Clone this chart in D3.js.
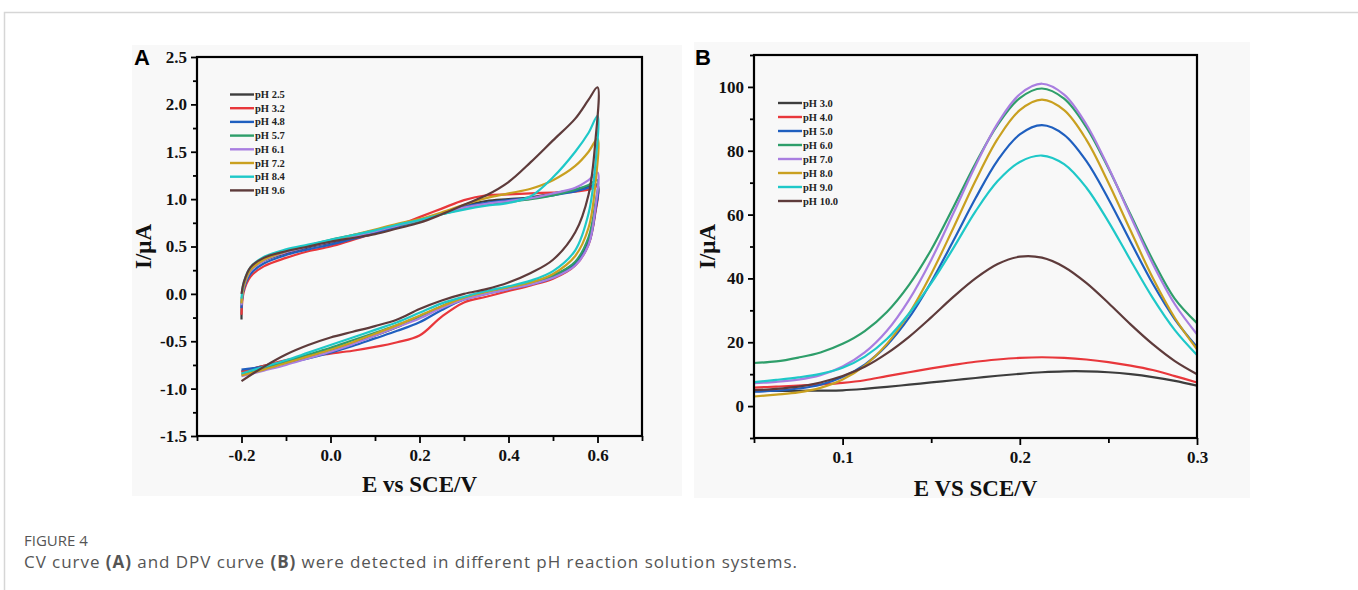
<!DOCTYPE html>
<html>
<head>
<meta charset="utf-8">
<script src="https://cdn.jsdelivr.net/npm/d3@7"></script>
<style>
  body { margin: 0; background: #fff; }
  text { font-family: 'Liberation Serif', 'Times New Roman', serif; }
</style>
</head>
<body>
<div id="chart"></div>
<script>
// ---- panel A : CV curves ----
const cvLabels = ['pH 2.5', 'pH 3.2', 'pH 4.8', 'pH 5.7', 'pH 6.1', 'pH 7.2', 'pH 8.4', 'pH 9.6']
const cvColors = ['#3d3d3d', '#e8373b', '#1f5fbf', '#2e9e6a', '#a97ee0', '#c9a020', '#1ec8c8', '#5e3b3b']

// forward scan (lower branch), ends at the switching potential
const cvForwardE = [-0.2, -0.15, -0.1, -0.05, 0, 0.05, 0.1, 0.15, 0.2, 0.25, 0.3, 0.35, 0.4, 0.45, 0.5, 0.55, 0.58, 0.595, 0.6]
const cvForward = [
  [-0.82, -0.76, -0.71, -0.65, -0.59, -0.52, -0.44, -0.35, -0.24, -0.13, -0.04, 0.02, 0.07, 0.12, 0.19, 0.33, 0.55, 0.88, 1.15],
  [-0.82, -0.76, -0.7, -0.66, -0.63, -0.6, -0.56, -0.51, -0.44, -0.24, -0.09, -0.03, 0.03, 0.09, 0.16, 0.3, 0.52, 0.85, 1.13],
  [-0.8, -0.77, -0.73, -0.68, -0.62, -0.55, -0.47, -0.39, -0.3, -0.17, -0.06, 0.0, 0.05, 0.1, 0.17, 0.31, 0.53, 0.87, 1.15],
  [-0.85, -0.79, -0.72, -0.64, -0.57, -0.49, -0.41, -0.33, -0.24, -0.14, -0.05, 0.01, 0.06, 0.11, 0.19, 0.34, 0.6, 0.95, 1.2],
  [-0.87, -0.81, -0.75, -0.68, -0.61, -0.53, -0.44, -0.35, -0.26, -0.15, -0.06, 0.0, 0.05, 0.1, 0.17, 0.3, 0.52, 0.9, 1.28],
  [-0.86, -0.8, -0.73, -0.66, -0.59, -0.51, -0.42, -0.33, -0.23, -0.13, -0.04, 0.02, 0.07, 0.12, 0.21, 0.4, 0.7, 1.15, 1.64],
  [-0.84, -0.77, -0.7, -0.62, -0.54, -0.46, -0.38, -0.3, -0.2, -0.1, -0.03, 0.03, 0.08, 0.14, 0.24, 0.46, 0.85, 1.35, 1.88],
  [-0.92, -0.77, -0.64, -0.54, -0.46, -0.4, -0.34, -0.27, -0.16, -0.07, 0.0, 0.05, 0.12, 0.22, 0.36, 0.65, 1.05, 1.6, 2.18]
]
// reverse scan (upper branch), back to -0.2 V
const cvReverseE = [0.58, 0.55, 0.5, 0.45, 0.4, 0.35, 0.3, 0.25, 0.2, 0.15, 0.1, 0.05, 0, -0.05, -0.1, -0.15, -0.18, -0.195, -0.2]
const cvReverse = [
  [1.13, 1.1, 1.06, 1.02, 1.0, 0.98, 0.93, 0.85, 0.77, 0.71, 0.65, 0.59, 0.54, 0.49, 0.43, 0.35, 0.25, 0.1, -0.27],
  [1.1, 1.08, 1.07, 1.06, 1.05, 1.04, 0.99, 0.9, 0.81, 0.72, 0.64, 0.57, 0.5, 0.45, 0.38, 0.29, 0.18, 0.02, -0.22],
  [1.12, 1.08, 1.04, 1.01, 0.99, 0.96, 0.92, 0.85, 0.77, 0.71, 0.64, 0.58, 0.52, 0.47, 0.41, 0.32, 0.21, 0.05, -0.15],
  [1.15, 1.1, 1.04, 1.0, 0.97, 0.94, 0.9, 0.84, 0.77, 0.72, 0.67, 0.62, 0.57, 0.51, 0.45, 0.36, 0.25, 0.08, -0.1],
  [1.2, 1.12, 1.06, 1.01, 0.98, 0.95, 0.91, 0.85, 0.78, 0.72, 0.66, 0.6, 0.55, 0.5, 0.44, 0.35, 0.24, 0.07, -0.12],
  [1.5, 1.35, 1.2, 1.11, 1.06, 1.01, 0.94, 0.86, 0.79, 0.74, 0.68, 0.62, 0.56, 0.51, 0.45, 0.36, 0.25, 0.08, -0.1],
  [1.7, 1.5, 1.23, 1.03, 0.96, 0.93, 0.89, 0.84, 0.78, 0.73, 0.67, 0.62, 0.57, 0.52, 0.47, 0.39, 0.28, 0.12, -0.05],
  [2.05, 1.85, 1.62, 1.39, 1.18, 1.04, 0.94, 0.84, 0.75, 0.69, 0.63, 0.59, 0.55, 0.5, 0.45, 0.38, 0.28, 0.12, 0.0]
]

// ---- panel B : DPV curves ----
const dpvLabels = ['pH 3.0', 'pH 4.0', 'pH 5.0', 'pH 6.0', 'pH 7.0', 'pH 8.0', 'pH 9.0', 'pH 10.0']
const dpvColors = ['#3d3d3d', '#e8373b', '#1f5fbf', '#2e9e6a', '#a97ee0', '#c9a020', '#1ec8c8', '#5e3b3b']
const dpvE = [0.05, 0.0625, 0.075, 0.0875, 0.1, 0.1125, 0.125, 0.1375, 0.15, 0.1625, 0.175,
  0.1875, 0.2, 0.2125, 0.225, 0.2375, 0.25, 0.2625, 0.275, 0.2875, 0.3]
const dpvI = [
  [4.7, 4.75, 4.8, 4.85, 4.95, 5.4, 6.0, 6.7, 7.4, 8.1, 8.8, 9.5, 10.1, 10.6, 10.9, 10.9, 10.6, 10.0, 9.1, 7.9, 6.4],
  [5.8, 6.1, 6.4, 6.8, 7.3, 8.1, 9.4, 10.6, 11.8, 12.9, 13.9, 14.6, 15.1, 15.3, 15.1, 14.6, 13.8, 12.7, 11.3, 9.4, 7.4],
  [4.5, 4.8, 5.5, 6.7, 9.1, 13, 19.1, 27.7, 38.9, 51.8, 65.1, 77, 85.1, 88, 85, 76.8, 64.9, 51.5, 38.4, 27.2, 18.5],
  [13.5, 14.0, 15.2, 16.8, 19.5, 23.5, 29.5, 38, 49, 62.3, 76, 88.1, 96.5, 99.5, 96.3, 87.4, 74.5, 60, 45.8, 33.6, 26],
  [7.2, 7.6, 8.3, 9.7, 12.4, 16.8, 23.6, 33.3, 45.8, 60.4, 75.3, 88.6, 97.7, 101, 97.6, 88.3, 74.8, 59.5, 44.6, 31.9, 22.5],
  [3.0, 3.6, 4.3, 5.7, 8.3, 12.7, 19.5, 29, 41.4, 55.8, 70.6, 83.7, 92.7, 96, 92.7, 83.5, 70, 55, 40.2, 27.6, 17.8],
  [7.5, 8.2, 9.0, 10.1, 12, 15.5, 21, 29, 38.5, 49.5, 61, 70.5, 76.5, 78.5, 75.8, 68.5, 57.8, 45.7, 33.9, 23.8, 16],
  [5.0, 5.4, 6.1, 7.4, 9.4, 12.3, 16.5, 21.7, 27.8, 34.2, 40, 44.5, 46.8, 46.5, 43.6, 38.6, 32.3, 25.6, 19.4, 14.1, 10]
]

const cvXTicks = [-0.3, -0.2, -0.1, 0, 0.1, 0.2, 0.3, 0.4, 0.5, 0.6, 0.7]
const cvXLabels = [-0.2, 0, 0.2, 0.4, 0.6]
const cvYTicks = d3.range(-1.5, 2.51, 0.25)
const cvYLabels = [-1.5, -1.0, -0.5, 0, 0.5, 1.0, 1.5, 2.0, 2.5]
const dpvXTicks = [0.05, 0.1, 0.15, 0.2, 0.25, 0.3]
const dpvXLabels = [0.1, 0.2, 0.3]
const dpvYTicks = d3.range(-10, 111, 10)
const dpvYLabels = [0, 20, 40, 60, 80, 100]

const width = 1358
const height = 590

const svg = d3
  .select('#chart')
  .append('svg')
  .attr('width', width)
  .attr('height', height)

// card outline
svg
  .append('rect')
  .attr('x', 4.5)
  .attr('y', 12.5)
  .attr('width', 1400)
  .attr('height', 700)
  .attr('fill', 'none')
  .attr('stroke', '#d6d6d6')
  .attr('stroke-width', 1.5)

// draws one framed panel
function panel(opts) {
  const g = svg.append('g')

  g.append('rect')
    .attr('x', opts.bg[0])
    .attr('y', opts.bg[1])
    .attr('width', opts.bg[2])
    .attr('height', opts.bg[3])
    .attr('fill', '#f8f8f8')

  const x = d3.scaleLinear().domain(opts.xDomain).range([opts.left, opts.right])
  const y = d3.scaleLinear().domain(opts.yDomain).range([opts.bottom, opts.top])

  const has = (list, d) => list.some(v => Math.abs(v - d) < 1e-9)

  // x ticks
  const xAxis = g
    .append('g')
    .attr('transform', `translate(0,${opts.bottom})`)
    .call(
      d3
        .axisBottom(x)
        .tickValues(opts.xTicks)
        .tickSizeOuter(0)
        .tickFormat(d => (has(opts.xLabels, d) ? opts.xFmt(d) : ''))
    )
  xAxis.select('.domain').remove()
  xAxis.selectAll('.tick line')
    .attr('stroke', '#000')
    .attr('stroke-width', 1.8)
    .attr('y2', d => (has(opts.xLabels, d) ? 7 : 5))
  xAxis.selectAll('.tick text')
    .attr('y', 13)
    .attr('fill', '#111')
    .style('font-family', "'Liberation Serif', serif")
    .style('font-weight', 'bold')
    .style('font-size', '17px')

  // y ticks
  const yAxis = g
    .append('g')
    .attr('transform', `translate(${opts.left},0)`)
    .call(
      d3
        .axisLeft(y)
        .tickValues(opts.yTicks)
        .tickSizeOuter(0)
        .tickFormat(d => (has(opts.yLabels, d) ? opts.yFmt(d) : ''))
    )
  yAxis.select('.domain').remove()
  yAxis.selectAll('.tick line')
    .attr('stroke', '#000')
    .attr('stroke-width', 1.8)
    .attr('x2', d => (has(opts.yLabels, d) ? -6 : -4))
  yAxis.selectAll('.tick text')
    .attr('x', -10)
    .attr('fill', '#111')
    .style('font-family', "'Liberation Serif', serif")
    .style('font-weight', 'bold')
    .style('font-size', '17px')

  // curves
  const line = d3
    .line()
    .x(d => x(d[0]))
    .y(d => y(d[1]))
    .curve(d3.curveCatmullRom.alpha(0.5))

  g.selectAll('path.curve')
    .data(opts.series)
    .enter()
    .append('path')
    .attr('class', 'curve')
    .attr('d', d => line(d.points))
    .attr('fill', 'none')
    .attr('stroke', d => d.color)
    .attr('stroke-width', 2.2)

  // frame
  g.append('rect')
    .attr('x', opts.left)
    .attr('y', opts.top)
    .attr('width', opts.right - opts.left)
    .attr('height', opts.bottom - opts.top)
    .attr('fill', 'none')
    .attr('stroke', '#000')
    .attr('stroke-width', 2.2)

  // legend
  const leg = g
    .selectAll('g.leg')
    .data(opts.series)
    .enter()
    .append('g')
    .attr('transform', (d, i) => `translate(${opts.legend[0]},${opts.legend[1] + i * opts.legend[2]})`)
  leg.append('line')
    .attr('x1', 0)
    .attr('x2', 24)
    .attr('stroke', d => d.color)
    .attr('stroke-width', 2.4)
  leg.append('text')
    .attr('x', 25)
    .attr('y', 3.5)
    .attr('fill', '#222')
    .style('font-weight', 'bold')
    .style('font-size', '10.5px')
    .text(d => d.label)

  // axis titles
  g.append('text')
    .attr('x', (opts.left + opts.right) / 2)
    .attr('y', opts.xTitleY)
    .attr('text-anchor', 'middle')
    .attr('fill', '#111')
    .style('font-weight', 'bold')
    .style('font-size', '23px')
    .text(opts.xTitle)

  g.append('text')
    .attr('transform', `translate(${opts.yTitleX},${(opts.top + opts.bottom) / 2}) rotate(-90)`)
    .attr('text-anchor', 'middle')
    .attr('fill', '#111')
    .style('font-weight', 'bold')
    .style('font-size', '23px')
    .text('I/μA')

  // panel letter
  g.append('text')
    .attr('x', opts.letter[0])
    .attr('y', opts.letter[1])
    .attr('fill', '#000')
    .style('font-family', "'Liberation Sans', Arial, sans-serif")
    .style('font-weight', 'bold')
    .style('font-size', '22px')
    .text(opts.letterText)
}

const oneDec = d => {
  const s = d.toFixed(1)
  return s === '-0.0' ? '0.0' : s
}

const cvSeries = cvLabels.map((label, i) => ({
  label: label,
  color: cvColors[i],
  points: cvForwardE
    .map((e, j) => [e, cvForward[i][j]])
    .concat(cvReverseE.map((e, j) => [e, cvReverse[i][j]]))
}))

const dpvSeries = dpvLabels.map((label, i) => ({
  label: label,
  color: dpvColors[i],
  points: dpvE.map((e, j) => [e, dpvI[i][j]])
}))

panel({
  bg: [132, 45, 550, 451],
  left: 197, right: 642, top: 57, bottom: 436,
  xDomain: [-0.3, 0.7], yDomain: [-1.5, 2.5],
  xTicks: cvXTicks, xLabels: cvXLabels,
  yTicks: cvYTicks, yLabels: cvYLabels,
  xFmt: oneDec, yFmt: oneDec,
  series: cvSeries,
  legend: [230, 94.5, 13.7],
  xTitle: 'E vs SCE/V', xTitleY: 492, yTitleX: 151,
  letter: [134, 65], letterText: 'A'
})

panel({
  bg: [694, 42, 556, 456],
  left: 754, right: 1197, top: 55, bottom: 438,
  xDomain: [0.05, 0.3], yDomain: [-10, 110],
  xTicks: dpvXTicks, xLabels: dpvXLabels,
  yTicks: dpvYTicks, yLabels: dpvYLabels,
  xFmt: oneDec, yFmt: d => String(d),
  series: dpvSeries,
  legend: [778, 103, 14],
  xTitle: 'E VS SCE/V', xTitleY: 496, yTitleX: 715,
  letter: [695, 65], letterText: 'B'
})

// caption
svg
  .append('text')
  .attr('x', 24)
  .attr('y', 546)
  .attr('fill', '#555')
  .style('font-family', "'Open Sans', sans-serif")
  .style('font-size', '15px')
  .text('FIGURE 4')

const cap = svg
  .append('text')
  .attr('x', 24)
  .attr('y', 568)
  .attr('fill', '#555')
  .attr('textLength', 773)
  .attr('lengthAdjust', 'spacing')
  .style('font-family', "'Open Sans', sans-serif")
  .style('font-size', '17px')
cap.append('tspan').text('CV curve ')
cap.append('tspan').style('font-weight', 'bold').text('(A)')
cap.append('tspan').text(' and DPV curve ')
cap.append('tspan').style('font-weight', 'bold').text('(B)')
cap.append('tspan').text(' were detected in different pH reaction solution systems.')
</script>
</body>
</html>
